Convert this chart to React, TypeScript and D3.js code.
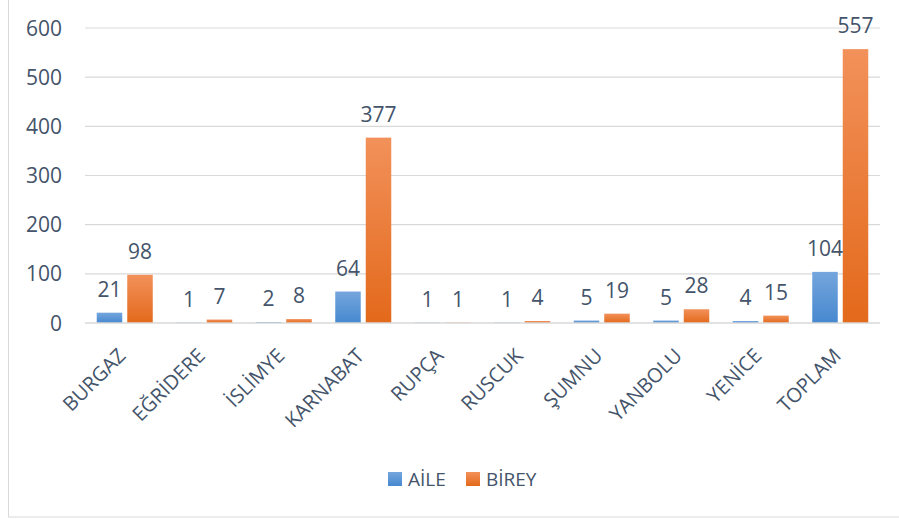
import * as d3 from "d3";
import React from "react";

const categories = ["BURGAZ", "EĞRİDERE", "İSLİMYE", "KARNABAT", "RUPÇA", "RUSCUK", "ŞUMNU", "YANBOLU", "YENİCE", "TOPLAM"];
const seriesNames = ["AİLE", "BİREY"];
const aile = [21, 1, 2, 64, 1, 1, 5, 5, 4, 104];
const birey = [98, 7, 8, 377, 1, 4, 19, 28, 15, 557];
const yTicks = [0, 100, 200, 300, 400, 500, 600];

const W = 899;
const H = 519;
const margin = { top: 28, right: 19, bottom: 196, left: 85 };
const textColor = "#44546A";
const font = "'Open Sans', sans-serif";

function App() {
  const x = d3
    .scaleBand()
    .domain(categories)
    .range([margin.left, W - margin.right])
    .padding(0);
  const xs = d3
    .scaleBand()
    .domain(seriesNames)
    .range([0, x.bandwidth()])
    .paddingInner(0.164)
    .paddingOuter(0.385);
  const y = d3
    .scaleLinear()
    .domain([0, 600])
    .range([H - margin.bottom, margin.top]);

  const rows = categories.map((c, i) => ({ cat: c, values: [aile[i], birey[i]] }));
  const fills = ["url(#gBlue)", "url(#gOrange)"];

  return (
    <svg width={W} height={H} style={{ position: "absolute", left: 0, top: 0, background: "#fff" }} fontFamily={font}>
      <defs>
        <linearGradient id="gBlue" x1="0" y1="0" x2="0" y2="1">
          <stop offset="0" stopColor="#75A6DD" />
          <stop offset="1" stopColor="#4688CF" />
        </linearGradient>
        <linearGradient id="gOrange" x1="0" y1="0" x2="0" y2="1">
          <stop offset="0" stopColor="#F2915A" />
          <stop offset="1" stopColor="#E3691B" />
        </linearGradient>
      </defs>
      <rect x={8.5} y={-2} width={W + 4} height={519} fill="none" stroke="#D9D9D9" strokeWidth={1} />

      {/* grid + y axis labels */}
      {yTicks.map((t) => (
        <g key={t}>
          {t !== 0 && (
            <line x1={margin.left} x2={W - margin.right} y1={y(t)} y2={y(t)} stroke="#D9D9D9" strokeWidth={1.2} />
          )}
          <text x={62} y={y(t)} dy="0.36em" textAnchor="end" fontSize={21} fill={textColor}>
            {t}
          </text>
        </g>
      ))}

      {/* bars */}
      {rows.map((r) => (
        <g key={r.cat} transform={`translate(${x(r.cat)},0)`}>
          {r.values.map((v, j) => (
            <rect
              key={j}
              x={xs(seriesNames[j])}
              y={y(v)}
              width={xs.bandwidth()}
              height={y(0) - y(v)}
              fill={fills[j]}
            />
          ))}
          {r.values.map((v, j) => (
            <text
              key={"l" + j}
              x={(xs(seriesNames[j]) as number) + xs.bandwidth() / 2}
              y={y(v) - 16}
              textAnchor="middle"
              fontSize={21}
              fill={textColor}
            >
              {v}
            </text>
          ))}
        </g>
      ))}

      {/* zero axis line */}
      <line x1={margin.left} x2={W - margin.right} y1={y(0)} y2={y(0)} stroke="#D9D9D9" strokeWidth={1.5} />

      {/* category labels */}
      {categories.map((c) => (
        <text
          key={c}
          transform={`translate(${(x(c) as number) + x.bandwidth() / 2 + 2},357) rotate(-45)`}
          textAnchor="end"
          fontSize={20}
          fill={textColor}
        >
          {c}
        </text>
      ))}

      {/* legend */}
      <g>
        <rect x={388} y={472} width={14} height={14} fill="url(#gBlue)" />
        <text x={408} y={486} fontSize={19} fill={textColor}>
          {seriesNames[0]}
        </text>
        <rect x={466} y={472} width={14} height={14} fill="url(#gOrange)" />
        <text x={486} y={486} fontSize={19} fill={textColor}>
          {seriesNames[1]}
        </text>
      </g>
    </svg>
  );
}

export default App;
